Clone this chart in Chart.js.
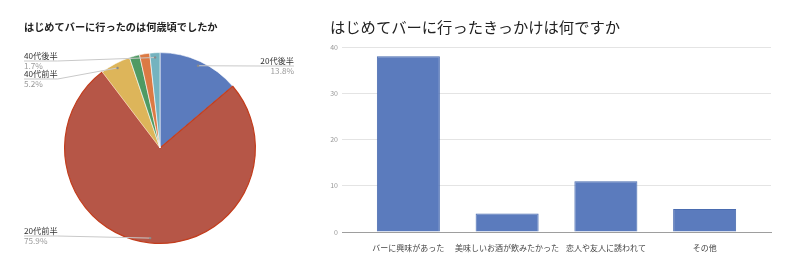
<!DOCTYPE html>
<html><head><meta charset="utf-8">
<script src="https://cdn.jsdelivr.net/npm/chart.js@4/dist/chart.umd.min.js"></script>
<style>
html,body{margin:0;padding:0;background:#fff;}
body{width:800px;height:268px;position:relative;overflow:hidden;font-family:"Noto Sans CJK JP",sans-serif;}
#pieWrap{position:absolute;left:0;top:0;width:310px;height:268px;}
#barWrap{position:absolute;left:310px;top:0;width:490px;height:268px;}
.title{position:absolute;white-space:nowrap;color:#222;line-height:1;}
#pieTitle{left:24px;top:22px;font-size:10.2px;font-weight:bold;}
#barTitle{left:330px;top:19px;font-size:15.3px;}
</style></head>
<body>
<div id="pieWrap"><canvas id="pie" width="310" height="268"></canvas></div>
<div id="barWrap"><canvas id="bar" width="490" height="268"></canvas></div>
<div class="title" id="pieTitle"></div>
<div class="title" id="barTitle"></div>
<script>
// ---- data ----
const pieTitleText = 'はじめてバーに行ったのは何歳頃でしたか';
const barTitleText = 'はじめてバーに行ったきっかけは何ですか';
const ageLabels = ['20代後半', '20代前半', '40代前半', '30代前半', '30代後半', '40代後半'];
const ageCounts = [8, 44, 3, 1, 1, 1];
const reasonLabels = ['バーに興味があった', '美味しいお酒が飲みたかった', '恋人や友人に誘われて', 'その他'];
const reasonCounts = [38, 4, 11, 5];
const yTickValues = [0, 10, 20, 30, 40];

document.getElementById('pieTitle').textContent = pieTitleText;
document.getElementById('barTitle').textContent = barTitleText;

const FONT = '"Noto Sans CJK JP", "Noto Sans", sans-serif';
const pieColors = ['#5b7bbd', '#b65647', '#ddb55a', '#4f9a63', '#dc7a44', '#74b3bf'];
const pieBorders = ['#ffffff', '#c33d1d', '#ffffff', '#ffffff', '#ffffff', '#ffffff'];

// callout layout (which slices are labelled, and where their text sits)
const callouts = [
  {i: 0, side: 'right', x: 294, lineY: 66},
  {i: 5, side: 'left', x: 24, lineY: 61},
  {i: 2, side: 'left', x: 24, lineY: 79},
  {i: 1, side: 'left', x: 24, lineY: 236}
];

const calloutPlugin = {
  id: 'callouts',
  afterDatasetsDraw(chart) {
    const ctx = chart.ctx;
    const meta = chart.getDatasetMeta(0);
    const total = ageCounts.reduce((a, b) => a + b, 0);
    ctx.save();
    ctx.font = '8.2px ' + FONT;
    callouts.forEach(c => {
      const p = meta.data[c.i].getProps(['x', 'y', 'startAngle', 'endAngle', 'outerRadius'], true);
      const mid = (p.startAngle + p.endAngle) / 2;
      const ax = p.x + Math.cos(mid) * p.outerRadius * 0.95;
      const ay = p.y + Math.sin(mid) * p.outerRadius * 0.95;
      const name = ageLabels[c.i];
      const pct = (ageCounts[c.i] / total * 100).toFixed(1) + '%';
      const w = ctx.measureText(name).width;
      ctx.strokeStyle = '#c9c9c9';
      ctx.lineWidth = 1;
      ctx.beginPath();
      if (c.side === 'right') {
        ctx.moveTo(ax, ay);
        ctx.lineTo(c.x - w, c.lineY);
        ctx.lineTo(c.x, c.lineY);
      } else {
        ctx.moveTo(c.x, c.lineY);
        ctx.lineTo(c.x + w, c.lineY);
        ctx.lineTo(ax, ay);
      }
      ctx.stroke();
      ctx.fillStyle = '#8a8a8a';
      ctx.beginPath();
      ctx.arc(ax, ay, 1.2, 0, Math.PI * 2);
      ctx.fill();
      ctx.textAlign = c.side === 'right' ? 'right' : 'left';
      ctx.textBaseline = 'middle';
      ctx.fillStyle = '#333333';
      ctx.fillText(name, c.x, c.lineY - 4.7);
      ctx.fillStyle = '#9a9a9a';
      ctx.fillText(pct, c.x, c.lineY + 4.6);
    });
    ctx.restore();
  }
};

new Chart(document.getElementById('pie'), {
  type: 'pie',
  data: {
    labels: ageLabels,
    datasets: [{
      data: ageCounts,
      backgroundColor: pieColors,
      borderColor: pieBorders,
      borderWidth: [0.6, 1.2, 0.6, 0.6, 0.6, 0.6]
    }]
  },
  options: {
    responsive: false,
    animation: false,
    devicePixelRatio: 1,
    layout: {padding: {left: 64, right: 54, top: 52, bottom: 24}},
    plugins: {legend: {display: false}, tooltip: {enabled: false}}
  },
  plugins: [calloutPlugin]
});

new Chart(document.getElementById('bar'), {
  type: 'bar',
  data: {
    datasets: [{
      data: reasonCounts.map((v, i) => ({x: i, y: v})),
      backgroundColor: '#5b7bbd',
      borderColor: '#4a6cb0',
      borderWidth: 1,
      barPercentage: 0.638,
      categoryPercentage: 1
    }]
  },
  options: {
    responsive: false,
    animation: false,
    devicePixelRatio: 1,
    layout: {padding: {left: 0, right: 29, top: 47, bottom: 0}},
    plugins: {legend: {display: false}, tooltip: {enabled: false}},
    scales: {
      x: {
        type: 'linear',
        min: -0.672,
        max: 3.672,
        offset: false,
        grid: {display: false},
        border: {display: true, color: '#9e9e9e'},
        afterBuildTicks: s => { s.ticks = reasonLabels.map((_, i) => ({value: i})); },
        afterFit: s => { s.height = 36; },
        ticks: {
          callback: v => reasonLabels[v],
          font: {size: 8, family: FONT},
          color: '#444',
          padding: 3,
          maxRotation: 0,
          autoSkip: false
        }
      },
      y: {
        min: 0,
        max: 40,
        afterBuildTicks: s => { s.ticks = yTickValues.map(v => ({value: v})); },
        afterFit: s => { s.width = 32; },
        border: {display: false},
        grid: {
          drawTicks: false,
          color: c => (c.tick && c.tick.value === 0) ? '#9e9e9e' : '#e4e4e4'
        },
        ticks: {font: {size: 7, family: FONT}, color: '#999', padding: 4}
      }
    }
  }
});
</script>
</body></html>
